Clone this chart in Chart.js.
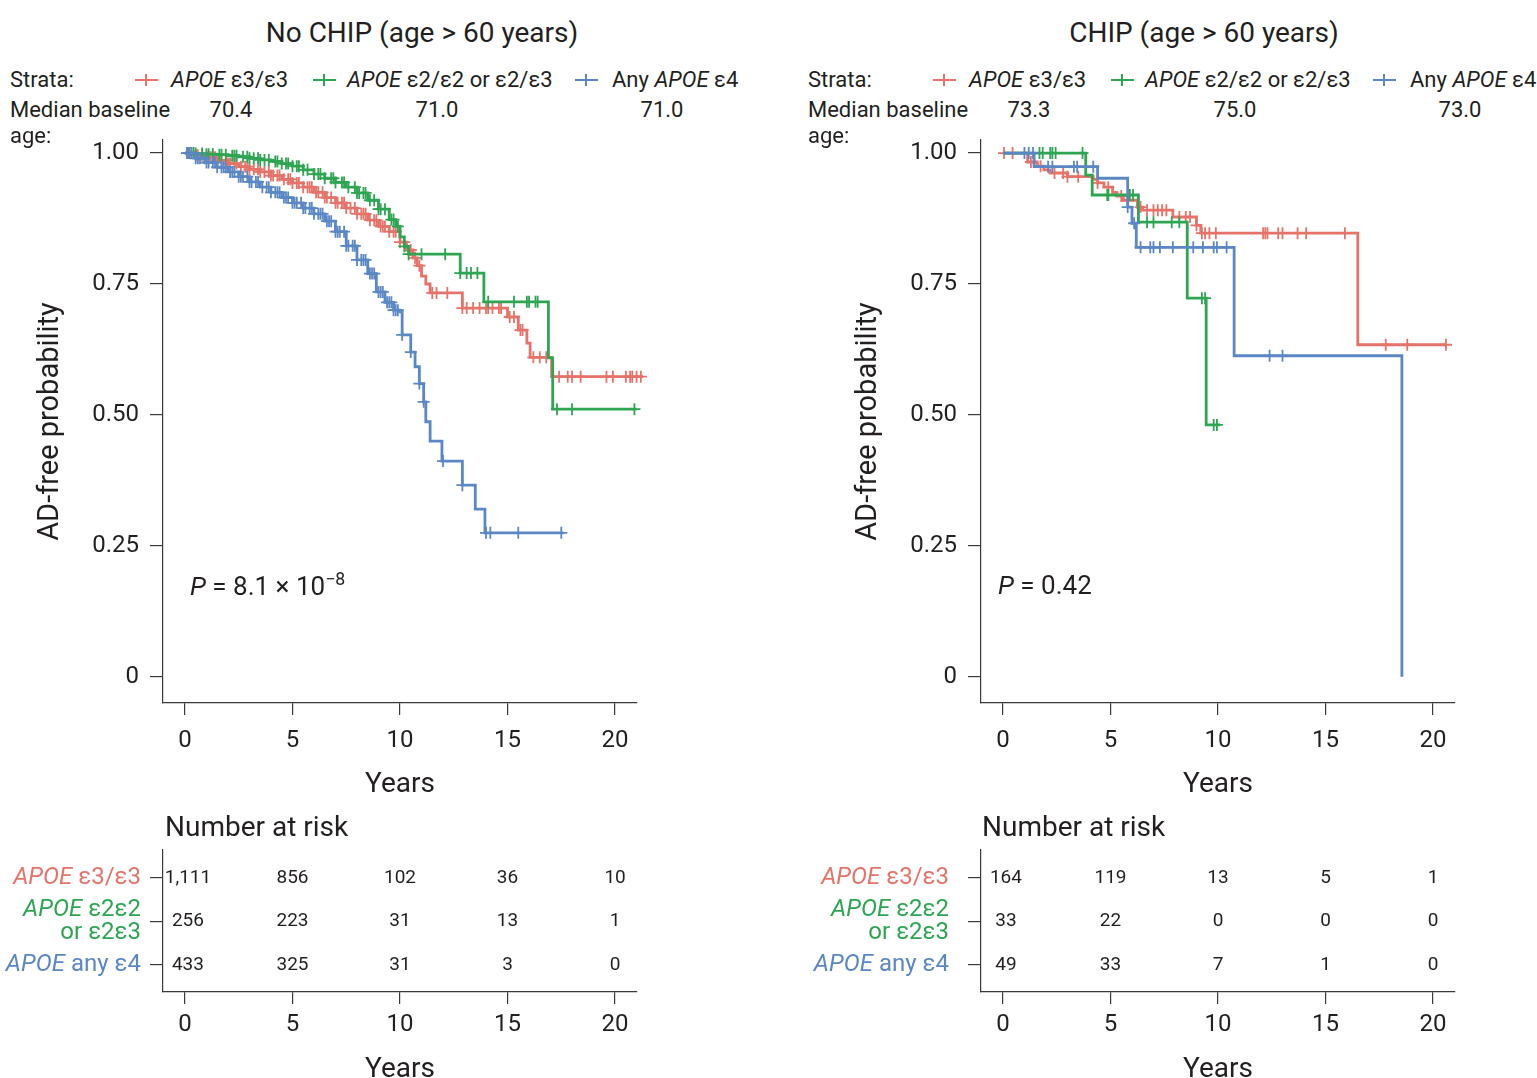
<!DOCTYPE html>
<html>
<head>
<meta charset="utf-8">
<title>AD-free probability by APOE genotype</title>
<script src="https://cdn.jsdelivr.net/npm/chart.js@4.4.1/dist/chart.umd.min.js"></script>
<style>
  html, body { margin: 0; padding: 0; background: #fff; }
  body { width: 1537px; height: 1078px; position: relative; overflow: hidden;
         font-family: Roboto, "Liberation Sans", sans-serif; color: #231f20; }
  .t { position: absolute; white-space: nowrap; line-height: 1; }
  .t sup { font-size: 0.68em; vertical-align: 0.55em; line-height: 0; }
  canvas { position: absolute; }
  .bar { position: absolute; }
</style>
</head>
<body>
<canvas id="kmNoChip" width="760" height="680" style="left:0;top:130px"></canvas>
<canvas id="kmChip" width="719" height="680" style="left:818px;top:130px"></canvas>
<canvas id="riskNoChip" width="760" height="250" style="left:0;top:842px"></canvas>
<canvas id="riskChip" width="759" height="250" style="left:778px;top:842px"></canvas>
<script>
// ---- data ----
const xTicks = [0, 5, 10, 15, 20];
const yTicks = [0, 0.25, 0.5, 0.75, 1];
const riskYears = [0, 5, 10, 15, 20];

// No CHIP: step points (years, AD-free probability) and censor times
const noChipE33Times = [0, 0.5, 1, 1.5, 2, 2.5, 3, 3.5, 4, 4.5, 5, 5.5, 6, 6.5, 7, 7.5, 8, 8.5, 9, 9.5, 10, 10.3, 10.6, 10.8, 11.0, 11.2, 11.4, 12.9, 15.0, 15.5, 15.9, 16.05, 17.05, 21.3];
const noChipE33Surv = [1, 0.996, 0.992, 0.986, 0.98, 0.974, 0.969, 0.964, 0.957, 0.95, 0.943, 0.935, 0.925, 0.915, 0.905, 0.895, 0.884, 0.872, 0.86, 0.85, 0.83, 0.815, 0.80, 0.785, 0.765, 0.75, 0.733, 0.704, 0.687, 0.662, 0.637, 0.61, 0.573, 0.573];
const noChipE33Censor = [0.1, 0.2, 0.3, 0.5, 0.6, 0.8, 1.0, 1.1, 1.2, 1.4, 1.5, 1.7, 1.9, 2.0, 2.1, 2.3, 2.4, 2.6, 2.8, 2.9, 3.0, 3.2, 3.4, 3.5, 3.7, 3.9, 4.0, 4.1, 4.3, 4.4, 4.6, 4.8, 4.9, 5.0, 5.2, 5.3, 5.5, 5.7, 5.8, 5.9, 6.1, 6.2, 6.4, 6.5, 6.6, 6.8, 7.0, 7.1, 7.3, 7.4, 7.5, 7.7, 7.9, 8.0, 8.2, 8.3, 8.4, 8.6, 8.8, 8.9, 9.1, 9.2, 9.3, 9.5, 9.7, 9.8, 10.0, 10.2, 10.5, 10.7, 10.9, 11.5, 11.7, 12.2, 12.9, 13.1, 13.4, 13.7, 14.0, 14.1, 14.3, 14.6, 14.7, 15.1, 15.3, 15.6, 15.7, 16.2, 16.5, 16.8, 17.4, 17.8, 18.0, 18.4, 19.6, 19.9, 20.5, 20.7, 20.8, 21.0, 21.2, 21.3];

const noChipE2Times = [0, 0.5, 1, 1.5, 2, 2.5, 3, 3.5, 4, 4.5, 5, 5.5, 6, 6.5, 7, 7.5, 8, 8.5, 9, 9.5, 9.8, 10.0, 10.2, 10.4, 12.8, 13.9, 16.9, 17.1, 21.0];
const noChipE2Surv = [1, 0.999, 0.998, 0.997, 0.995, 0.993, 0.99, 0.987, 0.984, 0.98, 0.975, 0.968, 0.96, 0.952, 0.944, 0.935, 0.924, 0.91, 0.893, 0.873, 0.86, 0.84, 0.822, 0.807, 0.771, 0.716, 0.609, 0.511, 0.511];
const noChipE2Censor = [0.2, 0.4, 0.5, 0.8, 1.0, 1.1, 1.3, 1.6, 1.7, 1.9, 2.2, 2.3, 2.4, 2.7, 2.9, 3.0, 3.2, 3.4, 3.5, 3.7, 3.9, 4.2, 4.3, 4.5, 4.7, 4.8, 5.0, 5.2, 5.3, 5.5, 5.7, 6.0, 6.2, 6.3, 6.5, 6.8, 6.9, 7.0, 7.3, 7.4, 7.6, 7.9, 8.0, 8.1, 8.3, 8.4, 8.6, 8.8, 9.0, 9.1, 9.3, 9.6, 9.7, 9.9, 10.2, 10.4, 11.0, 12.1, 12.8, 13.1, 13.3, 13.6, 14.1, 15.3, 15.9, 16.0, 16.3, 16.4, 17.3, 18.0, 20.9];

const noChipE4Times = [0, 0.5, 1, 1.5, 2, 2.5, 3, 3.5, 4, 4.5, 5, 5.5, 6, 6.5, 7, 7.5, 8, 8.5, 8.9, 9.3, 9.7, 10.0, 10.1, 10.5, 10.7, 10.9, 11.1, 11.2, 11.4, 11.95, 12.9, 13.5, 13.95, 17.6];
const noChipE4Surv = [1, 0.99, 0.982, 0.973, 0.964, 0.955, 0.945, 0.935, 0.925, 0.915, 0.905, 0.895, 0.884, 0.87, 0.85, 0.823, 0.796, 0.77, 0.735, 0.715, 0.70, 0.697, 0.653, 0.62, 0.592, 0.56, 0.525, 0.487, 0.45, 0.412, 0.366, 0.32, 0.275, 0.275];
const noChipE4Censor = [0.1, 0.2, 0.3, 0.5, 0.6, 0.7, 0.9, 1.0, 1.1, 1.3, 1.4, 1.5, 1.7, 1.8, 1.9, 2.1, 2.2, 2.3, 2.5, 2.6, 2.7, 2.9, 3.0, 3.1, 3.3, 3.4, 3.6, 3.8, 3.9, 4.0, 4.2, 4.3, 4.4, 4.6, 4.7, 4.8, 5.0, 5.1, 5.2, 5.4, 5.5, 5.6, 5.8, 5.9, 6.0, 6.2, 6.3, 6.4, 6.6, 6.7, 6.8, 7.0, 7.1, 7.2, 7.4, 7.5, 7.6, 7.8, 7.9, 8.0, 8.2, 8.3, 8.4, 8.6, 8.7, 8.8, 9.0, 9.1, 9.2, 9.4, 9.5, 9.6, 9.7, 9.8, 9.9, 10.1, 10.5, 10.9, 11.1, 12.0, 12.9, 14.0, 14.2, 15.5, 17.5];

// CHIP
const chipE33Times = [0, 1.15, 1.6, 1.9, 2.2, 3.0, 4.2, 4.4, 4.7, 5.1, 5.3, 5.6, 6.25, 6.5, 7.9, 9.0, 9.2, 16.5, 20.6];
const chipE33Surv = [1, 0.983, 0.975, 0.968, 0.962, 0.955, 0.95, 0.943, 0.935, 0.925, 0.918, 0.91, 0.897, 0.891, 0.878, 0.862, 0.847, 0.634, 0.634];
const chipE33Censor = [0.05, 0.45, 1.3, 1.75, 2.4, 2.8, 3.0, 3.5, 4.4, 4.9, 5.5, 5.8, 6.4, 6.7, 7.0, 7.2, 7.4, 7.6, 8.2, 8.5, 8.7, 9.0, 9.25, 9.4, 9.6, 9.9, 12.1, 12.2, 12.3, 12.8, 13.0, 13.7, 14.1, 15.9, 17.8, 18.8, 20.6];

const chipE2Times = [0, 3.85, 4.15, 6.3, 8.57, 9.45, 10.1];
const chipE2Surv = [1, 0.958, 0.92, 0.868, 0.723, 0.481, 0.481];
const chipE2Censor = [1.7, 1.85, 2.2, 2.3, 2.45, 3.7, 4.85, 4.9, 5.9, 6.05, 6.7, 7.0, 7.85, 8.2, 9.25, 9.4, 9.8, 9.95];

const chipE4Times = [0, 1.45, 4.4, 5.8, 6.0, 6.2, 10.75, 18.55];
const chipE4Surv = [1, 0.974, 0.952, 0.897, 0.866, 0.82, 0.613, 0];
const chipE4Censor = [1.0, 1.2, 1.4, 2.1, 2.3, 3.3, 3.45, 4.2, 5.8, 6.1, 6.4, 6.85, 7.0, 7.3, 7.9, 8.85, 9.3, 9.8, 9.95, 10.4, 12.4, 13.0];

// number at risk
const atRiskNoChipE33 = [1111, 856, 102, 36, 10];
const atRiskNoChipE2 = [256, 223, 31, 13, 1];
const atRiskNoChipE4 = [433, 325, 31, 3, 0];
const atRiskChipE33 = [164, 119, 13, 5, 1];
const atRiskChipE2 = [33, 22, 0, 0, 0];
const atRiskChipE4 = [49, 33, 7, 1, 0];

const medianAgeNoChip = [70.4, 71.0, 71.0];
const medianAgeChip = [73.3, 75.0, 73.0];

// ---- styling ----
const FONT = 'Roboto, "Liberation Sans", sans-serif';
const INK = '#231f20';
const AXIS = '#3a3a3a';
const RED = '#e5736a';
const GREEN = '#2ea552';
const BLUE = '#5b87c5';

// ---- helpers ----
function survAt(times, surv, t) {
    let s = surv[0];
    for (let i = 0; i < times.length; i++) {
        if (times[i] <= t) s = surv[i];
    }
    return s;
}

function text(html, x, y, size, align, color) {
    const el = document.createElement('div');
    el.className = 't';
    el.innerHTML = html;
    el.style.left = x + 'px';
    el.style.top = y + 'px';
    el.style.fontSize = size + 'px';
    if (color) el.style.color = color;
    const ax = align === 'center' ? '-50%' : align === 'right' ? '-100%' : '0';
    el.style.transform = 'translate(' + ax + ', -50%)';
    document.body.appendChild(el);
}

function legendCross(x, y, color) {
    const h = document.createElement('div');
    h.className = 'bar';
    Object.assign(h.style, { left: (x - 11) + 'px', top: (y - 1) + 'px', width: '23px', height: '2px', background: color });
    const v = document.createElement('div');
    v.className = 'bar';
    Object.assign(v.style, { left: (x - 1) + 'px', top: (y - 6) + 'px', width: '2px', height: '12px', background: color });
    document.body.append(h, v);
}

function header(title, titleX, dx, medians) {
    text(title, titleX, 33, 28, 'center');
    text('Strata:', 10 + dx, 80, 22, 'left');
    legendCross(146 + dx, 80, RED);
    text('<i>APOE</i> ε3/ε3', 171 + dx, 80, 22, 'left');
    legendCross(324 + dx, 80, GREEN);
    text('<i>APOE</i> ε2/ε2 or ε2/ε3', 347 + dx, 80, 22, 'left');
    legendCross(586 + dx, 80, BLUE);
    text('Any <i>APOE</i> ε4', 612 + dx, 80, 22, 'left');
    text('Median baseline', 10 + dx, 110, 22, 'left');
    text('age:', 10 + dx, 136, 22, 'left');
    [231, 437, 662].forEach((x, i) => text(medians[i].toFixed(1), x + dx, 110, 22, 'center'));
}

function noPadding(sc) {
    sc.paddingTop = 0; sc.paddingBottom = 0; sc.paddingLeft = 0; sc.paddingRight = 0;
}

function kmChart(id, strata, rightPad) {
    const datasets = [];
    // later strata on top: Chart.js paints dataset 0 last
    strata.slice().reverse().forEach(s => {
        datasets.push({
            type: 'scatter',
            data: s.censor.map(t => ({ x: t, y: survAt(s.times, s.surv, t) })),
            pointStyle: 'cross', pointRadius: 6, borderColor: s.color, borderWidth: 1.8,
            clip: false
        });
        datasets.push({
            type: 'line',
            label: s.name,
            data: s.times.map((t, i) => ({ x: t, y: s.surv[i] })),
            stepped: 'before', borderColor: s.color, borderWidth: 2.8,
            pointRadius: 0, fill: false, clip: false
        });
    });

    return new Chart(document.getElementById(id), {
        data: { datasets: datasets },
        options: {
            responsive: false,
            animation: false,
            events: [],
            layout: { padding: { left: 0, top: 10, right: rightPad, bottom: 0 } },
            plugins: { legend: { display: false }, tooltip: { enabled: false } },
            scales: {
                x: {
                    type: 'linear', min: -1.02, max: 21.02,
                    afterBuildTicks: sc => { sc.ticks = xTicks.map(v => ({ value: v })); },
                    afterFit: sc => { sc.height = 107; noPadding(sc); },
                    grid: { drawOnChartArea: false, drawTicks: true, tickLength: 12, color: AXIS, lineWidth: 1.2 },
                    border: { display: true, color: AXIS, width: 1.2 },
                    ticks: { font: { family: FONT, size: 24 }, color: INK, padding: 12, maxRotation: 0, autoSkip: false },
                    title: { display: true, text: 'Years', font: { family: FONT, size: 28 }, color: INK, padding: { top: 0, bottom: 8 } }
                },
                y: {
                    type: 'linear', min: -0.05, max: 1.025,
                    afterBuildTicks: sc => { sc.ticks = yTicks.map(v => ({ value: v })); },
                    afterFit: sc => { sc.width = 163; noPadding(sc); },
                    grid: { drawOnChartArea: false, drawTicks: true, tickLength: 13, color: AXIS, lineWidth: 1.2 },
                    border: { display: true, color: AXIS, width: 1.2 },
                    ticks: { font: { family: FONT, size: 24 }, color: INK, padding: 11,
                             callback: v => v === 0 ? '0' : v.toFixed(2) },
                    title: { display: true, text: 'AD-free probability', font: { family: FONT, size: 29 }, color: INK, padding: { top: 33, bottom: 0 } }
                }
            }
        }
    });
}

// draws the at-risk counts and the coloured row names through the chart scales
const riskTextPlugin = {
    id: 'riskText',
    afterDraw(chart, args, opts) {
        const { ctx, scales: { x, y } } = chart;
        ctx.save();
        ctx.textBaseline = 'middle';
        opts.rows.forEach((row, r) => {
            const py = y.getPixelForValue(r);
            ctx.font = '19px ' + FONT;
            ctx.fillStyle = INK;
            ctx.textAlign = 'center';
            row.counts.forEach((n, i) => {
                const dx = i === 0 ? 3 : 0;
                ctx.fillText(n.toLocaleString('en-US'), x.getPixelForValue(riskYears[i]) + dx, py);
            });
            const right = x.left - opts.gap;
            const lh = 23;
            const y0 = py - (row.lines.length - 1) * lh / 2;
            ctx.fillStyle = row.color;
            ctx.textAlign = 'left';
            row.lines.forEach((parts, li) => {
                const fonts = parts.map(p => (p.it ? 'italic ' : '') + '24px ' + FONT);
                let w = 0;
                parts.forEach((p, k) => { ctx.font = fonts[k]; w += ctx.measureText(p.t).width; });
                let cx = right - w;
                parts.forEach((p, k) => {
                    ctx.font = fonts[k];
                    ctx.fillText(p.t, cx, y0 + li * lh);
                    cx += ctx.measureText(p.t).width;
                });
            });
        });
        ctx.restore();
    }
};

function riskChart(id, counts, leftPad, rightPad, gap) {
    const rows = [
        { color: RED, counts: counts[0], lines: [[{ t: 'APOE', it: true }, { t: ' ε3/ε3' }]] },
        { color: GREEN, counts: counts[1], lines: [[{ t: 'APOE', it: true }, { t: ' ε2ε2' }], [{ t: 'or ε2ε3' }]] },
        { color: BLUE, counts: counts[2], lines: [[{ t: 'APOE', it: true }, { t: ' any ε4' }]] }
    ];
    return new Chart(document.getElementById(id), {
        type: 'scatter',
        data: { datasets: [{ data: [], pointRadius: 0 }] },
        plugins: [riskTextPlugin],
        options: {
            responsive: false,
            animation: false,
            events: [],
            layout: { padding: { left: leftPad, top: 8, right: rightPad, bottom: 0 } },
            plugins: { legend: { display: false }, tooltip: { enabled: false }, riskText: { rows: rows, gap: gap } },
            scales: {
                x: {
                    type: 'linear', min: -1.02, max: 21.02,
                    afterBuildTicks: sc => { sc.ticks = riskYears.map(v => ({ value: v })); },
                    afterFit: sc => { sc.height = 100; noPadding(sc); },
                    grid: { drawOnChartArea: false, drawTicks: true, tickLength: 12, color: AXIS, lineWidth: 1.2 },
                    border: { display: true, color: AXIS, width: 1.2 },
                    ticks: { font: { family: FONT, size: 24 }, color: INK, padding: 7, maxRotation: 0, autoSkip: false },
                    title: { display: true, text: 'Years', font: { family: FONT, size: 28 }, color: INK, padding: { top: 0, bottom: 5 } }
                },
                y: {
                    type: 'linear', min: -0.64, max: 2.62, reverse: true,
                    afterBuildTicks: sc => { sc.ticks = [0, 1, 2].map(v => ({ value: v })); },
                    afterFit: sc => { sc.width = 163; noPadding(sc); },
                    grid: { drawOnChartArea: false, drawTicks: true, tickLength: 13, color: AXIS, lineWidth: 1.2 },
                    border: { display: true, color: AXIS, width: 1.2 },
                    ticks: { callback: () => '' }
                }
            }
        }
    });
}

// ---- build ----
header('No CHIP (age &gt; 60 years)', 422, 0, medianAgeNoChip);
header('CHIP (age &gt; 60 years)', 1204, 798, medianAgeChip);

text('<i>P</i> = 8.1 × 10<sup>−8</sup>', 190, 586, 26, 'left');
text('<i>P</i> = 0.42', 998, 585, 26, 'left');
text('Number at risk', 165, 827, 28, 'left');
text('Number at risk', 982, 827, 28, 'left');

kmChart('kmNoChip', [
    { name: 'APOE ε3/ε3', color: RED, times: noChipE33Times, surv: noChipE33Surv, censor: noChipE33Censor },
    { name: 'APOE ε2/ε2 or ε2/ε3', color: GREEN, times: noChipE2Times, surv: noChipE2Surv, censor: noChipE2Censor },
    { name: 'Any APOE ε4', color: BLUE, times: noChipE4Times, surv: noChipE4Surv, censor: noChipE4Censor }
], 123);

kmChart('kmChip', [
    { name: 'APOE ε3/ε3', color: RED, times: chipE33Times, surv: chipE33Surv, censor: chipE33Censor },
    { name: 'APOE ε2/ε2 or ε2/ε3', color: GREEN, times: chipE2Times, surv: chipE2Surv, censor: chipE2Censor },
    { name: 'Any APOE ε4', color: BLUE, times: chipE4Times, surv: chipE4Surv, censor: chipE4Censor }
], 82);

riskChart('riskNoChip', [atRiskNoChipE33, atRiskNoChipE2, atRiskNoChipE4], 0, 123, 22);
riskChart('riskChip', [atRiskChipE33, atRiskChipE2, atRiskChipE4], 40, 82, 32);
</script>
</body>
</html>
